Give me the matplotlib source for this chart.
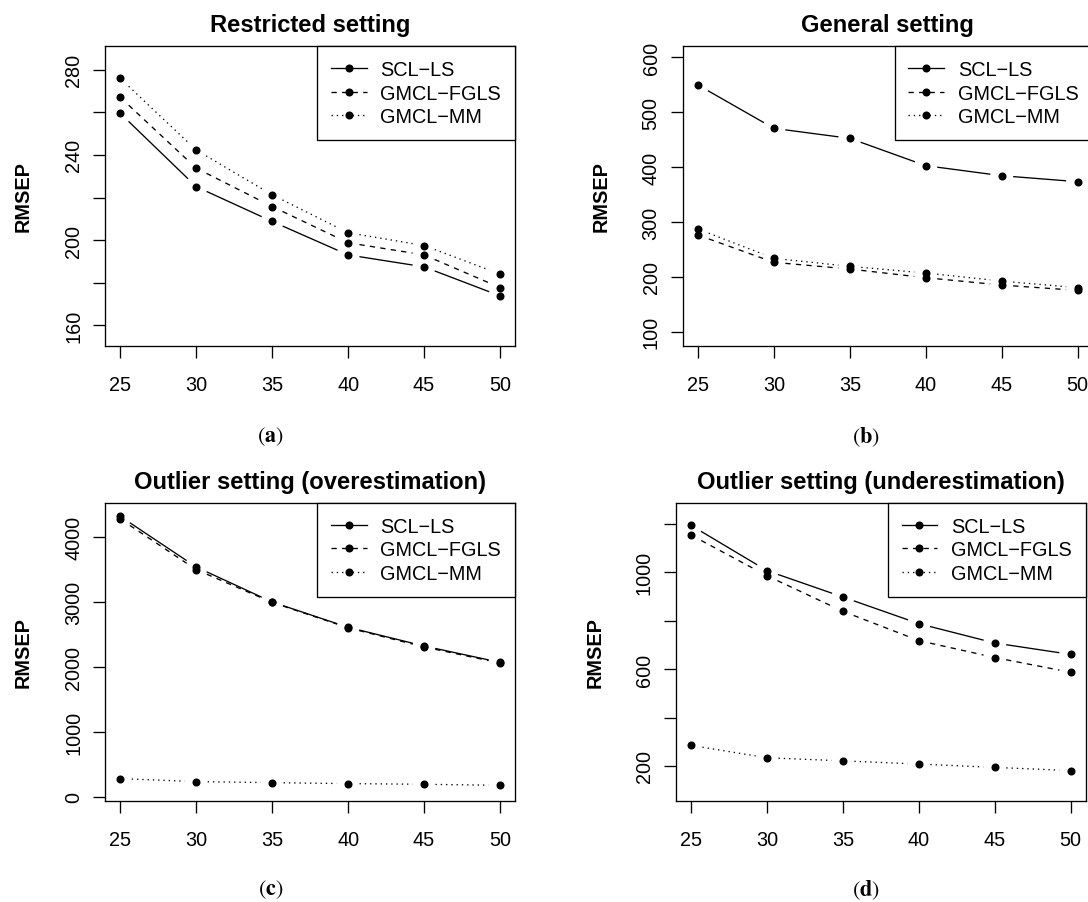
import numpy as np
import matplotlib
matplotlib.use("Agg")
import matplotlib.pyplot as plt
from matplotlib.lines import Line2D

plt.rcParams["font.family"] = ["Liberation Sans", "DejaVu Sans"]
plt.rcParams["mathtext.fontset"] = "stix"

# number of observations on the x axis
n_obs = [25, 30, 35, 40, 45, 50]

# (a) restricted setting
restr_scl = [259.5, 225.1, 208.8, 193.1, 187.5, 173.9]
restr_fgls = [267.0, 233.8, 215.8, 198.8, 193.1, 177.8]
restr_mm = [275.9, 242.3, 221.3, 203.5, 197.5, 184.1]

# (b) general setting
gen_scl = [549.6, 470.6, 452.4, 402.6, 384.3, 373.4]
gen_fgls = [276.2, 226.4, 214.2, 198.4, 185.0, 175.3]
gen_mm = [287.1, 233.7, 219.1, 206.9, 192.3, 180.2]

# (c) outliers, overestimation
over_scl = [4312, 3534, 2996, 2607, 2320, 2069]
over_fgls = [4271, 3493, 2990, 2600, 2305, 2059]
over_mm = [282, 236, 220, 205, 195, 179]

# (d) outliers, underestimation
under_scl = [1194, 1007, 898, 788, 708, 661]
under_fgls = [1154, 986, 839, 718, 648, 587]
under_mm = [285, 234, 221, 208, 194, 181]

titles = ["Restricted setting", "General setting",
          "Outlier setting (overestimation)", "Outlier setting (underestimation)"]
tags = ["a", "b", "c", "d"]
methods = ["SCL\u2212LS", "GMCL\u2212FGLS", "GMCL\u2212MM"]
panels = [
    [restr_scl, restr_fgls, restr_mm],
    [gen_scl, gen_fgls, gen_mm],
    [over_scl, over_fgls, over_mm],
    [under_scl, under_fgls, under_mm],
]

W, H = 1088, 903
fig = plt.figure(figsize=(W / 100, H / 100), dpi=100)

# plot boxes in pixels: left, top, right, bottom
boxes = [(105.1, 47, 515.1, 346.7), (682.8, 47, 1092.8, 346.7),
         (105.1, 503.7, 515.1, 802.3), (675.9, 503.7, 1085.9, 802.3)]
ylims = [(150.5, 291.1), (74.5, 620.7), (-66.6, 4522), (54.0, 1287.8)]
yticks = [np.arange(160, 281, 20), np.arange(100, 601, 100),
          np.arange(0, 4001, 1000), np.arange(200, 1201, 200)]
label_every = [2, 1, 1, 2]
ylab_x = [21.7, 599.5, 21.7, 593.1]
tag_xy = [(270.6, 437), (865.8, 437), (270.6, 890), (865.8, 890)]

LW = 0.95
MS = 5.8
FS = 14.3
GAP = 11.5  # px gap between line and point (R type="b")
linestyles = ["-", (0, (4, 4)), (0, (1, 3))]


def plot_b(ax, x, y, ls):
    # points, then segments shortened at both ends like R's type="b"
    ax.plot(x, y, "o", color="black", ms=MS, mew=0)
    pts = ax.transData.transform(np.column_stack([x, y]))
    inv = ax.transData.inverted()
    for p0, p1 in zip(pts[:-1], pts[1:]):
        d = p1 - p0
        L = np.hypot(d[0], d[1])
        if L <= 2 * GAP:
            continue
        u = d / L
        seg = inv.transform(np.array([p0 + u * GAP, p1 - u * GAP]))
        ax.plot(seg[:, 0], seg[:, 1], color="black", lw=LW, ls=ls,
                solid_capstyle="butt", dash_capstyle="butt")


for i in range(4):
    l, t, r, b = boxes[i]
    ax = fig.add_axes([l / W, 1 - b / H, (r - l) / W, (b - t) / H])
    ax.set_xlim(24, 51)
    ax.set_ylim(*ylims[i])

    for vals, ls in zip(panels[i], linestyles):
        plot_b(ax, n_obs, vals, ls)

    ax.set_xticks(n_obs)
    ax.set_yticks(yticks[i])
    ax.set_yticklabels([str(v) if k % label_every[i] == 0 else ""
                        for k, v in enumerate(yticks[i])])
    ax.tick_params(direction="out", length=8.6, width=LW, labelsize=FS, color="black")
    ax.tick_params(axis="x", pad=12.2)
    ax.tick_params(axis="y", pad=7.3, labelrotation=90)
    for lab in ax.get_yticklabels():
        lab.set_va("center")
    for sp in ax.spines.values():
        sp.set_linewidth(LW)

    ax.set_title(titles[i], fontsize=17.1, fontweight="bold", pad=10.6)
    ax.set_ylabel("RMSEP", fontsize=FS, fontweight="bold")
    ax.yaxis.set_label_coords((ylab_x[i] + 11.3 - l) / (r - l), 0.5)

    handles = [Line2D([], [], color="black", lw=LW, ls=s, marker="o", ms=MS, mew=0)
               for s in linestyles]
    leg = ax.legend(handles, methods, loc="upper right", borderaxespad=0,
                    fancybox=False, edgecolor="black", framealpha=1, fontsize=FS,
                    handlelength=1.8, handletextpad=0.7, borderpad=0.7,
                    labelspacing=0.24, numpoints=1)
    leg.get_frame().set_linewidth(LW)

    tx, ty = tag_xy[i]
    fig.text(tx / W, 1 - ty / H, r"$(\mathbf{%s})$" % tags[i], ha="center", va="center",
             fontsize=16)

fig.savefig("out.png", dpi=100)
